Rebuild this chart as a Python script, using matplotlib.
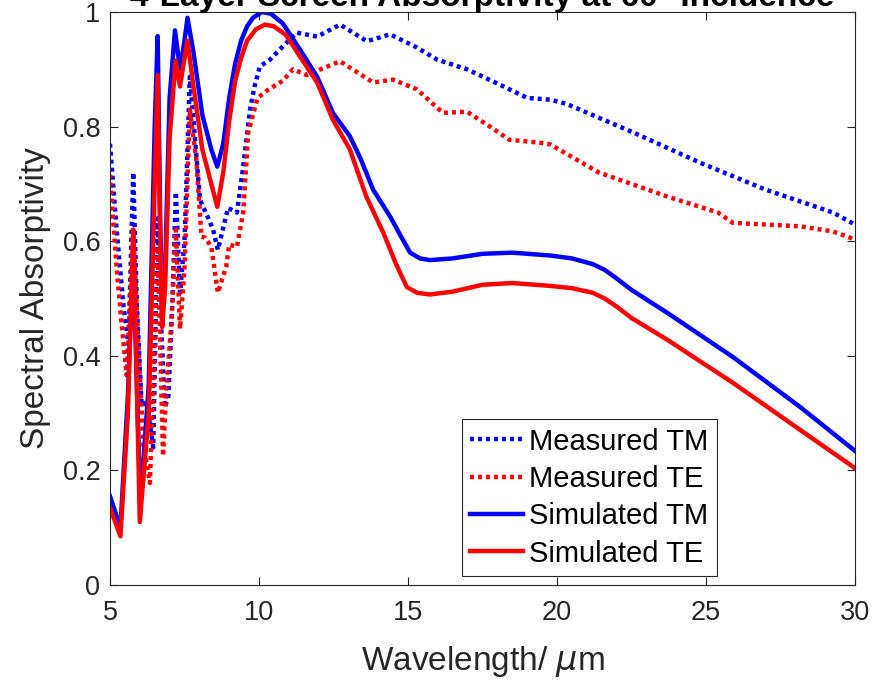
import matplotlib
matplotlib.use("Agg")
import matplotlib.pyplot as plt

plt.rcParams['font.family'] = ['Liberation Sans', 'DejaVu Sans']

title = "4-Layer Screen Absorptivity at 60° Incidence"
xlabel = "Wavelength/ $\\mu$m"
ylabel = "Spectral Absorptivity"
legend_labels = ["Measured TM", "Measured TE", "Simulated TM", "Simulated TE"]

x_meas_tm = [5, 5.22, 5.45, 5.62, 5.78, 5.9, 6.06, 6.23, 6.45, 6.6, 6.72, 6.84, 6.96, 7.1,
             7.21, 7.35, 7.5, 7.68, 7.85, 8.02, 8.3, 8.46, 8.62, 8.96, 9.26, 9.47, 9.7, 9.85,
             10.03, 10.37, 10.8, 11.27, 11.95, 12.72, 13.62, 14.4, 15.3, 15.97, 16.98,
             18.09, 19.0, 19.77, 20.3, 22.55, 24.8, 27.0, 29.26, 30]
y_meas_tm = [0.77, 0.622, 0.488, 0.42, 0.72, 0.49, 0.313, 0.32, 0.24, 0.64, 0.45, 0.31, 0.33, 0.50,
             0.686, 0.51, 0.60, 0.887, 0.78, 0.672, 0.64, 0.62, 0.585, 0.658, 0.65, 0.73, 0.83, 0.87,
             0.905, 0.917, 0.94, 0.964, 0.957, 0.978, 0.949, 0.961, 0.938, 0.917, 0.9,
             0.873, 0.85, 0.847, 0.84, 0.79, 0.737, 0.69, 0.65, 0.629]

x_meas_te = [5, 5.22, 5.4, 5.56, 5.78, 5.95, 6.12, 6.34, 6.6, 6.78, 6.9, 7.05, 7.21, 7.35, 7.5,
             7.68, 7.9, 8.07, 8.2, 8.4, 8.62, 8.9, 9.0, 9.26, 9.47, 9.64, 9.95, 10.3, 10.8,
             11.14, 11.6, 12.72, 13.83, 14.5, 15.3, 16.17, 16.98, 17.75, 18.4, 19.4, 19.77,
             21.4, 23.7, 25.4, 25.9, 28.15, 29.26, 30]
y_meas_te = [0.716, 0.555, 0.45, 0.366, 0.62, 0.42, 0.245, 0.178, 0.59, 0.225, 0.35, 0.45, 0.62,
             0.447, 0.55, 0.83, 0.74, 0.608, 0.606, 0.59, 0.51, 0.556, 0.594, 0.59, 0.65, 0.79,
             0.85, 0.864, 0.88, 0.9, 0.89, 0.914, 0.877, 0.882, 0.865, 0.824, 0.826, 0.8,
             0.777, 0.772, 0.769, 0.72, 0.678, 0.65, 0.632, 0.626, 0.617, 0.603]

x_sim_tm = [5, 5.35, 5.6, 5.78, 5.9, 6.02, 6.3, 6.5, 6.6, 6.68, 6.75, 6.85, 7.0, 7.18, 7.35,
            7.5, 7.6, 7.8, 8.1, 8.4, 8.6, 8.8, 9.0, 9.2, 9.4, 9.6, 9.8, 10.1, 10.4, 10.8,
            11.38, 11.95, 12.48, 13.05, 13.4, 13.83, 14.4, 14.8, 15.07, 15.4, 15.74, 16.5,
            17.5, 18.5, 19.77, 20.5, 21.2, 21.6, 22.0, 22.5, 23.7, 25.9, 28.15, 30]
y_sim_tm = [0.155, 0.10, 0.33, 0.58, 0.35, 0.14, 0.35, 0.80, 0.958, 0.65, 0.46, 0.55, 0.85,
            0.968, 0.90, 0.95, 0.99, 0.93, 0.82, 0.76, 0.73, 0.77, 0.85, 0.91, 0.95, 0.975,
            0.99, 1.0, 0.997, 0.98, 0.934, 0.887, 0.824, 0.783, 0.745, 0.69, 0.643, 0.605,
            0.58, 0.57, 0.567, 0.57, 0.578, 0.58, 0.575, 0.57, 0.56, 0.55, 0.535, 0.515,
            0.475, 0.398, 0.311, 0.234]

x_sim_te = [5, 5.35, 5.6, 5.78, 5.9, 6.0, 6.3, 6.5, 6.6, 6.68, 6.75, 6.85, 7.0, 7.2, 7.35,
            7.5, 7.6, 7.8, 8.1, 8.4, 8.6, 8.8, 9.0, 9.2, 9.4, 9.6, 9.9, 10.2, 10.5, 10.9,
            11.38, 11.95, 12.48, 13.05, 13.6, 14.17, 14.6, 14.96, 15.3, 15.74, 16.5, 17.5,
            18.5, 19.77, 20.5, 21.2, 21.6, 22.0, 22.5, 23.7, 25.9, 28.15, 30]
y_sim_te = [0.135, 0.085, 0.30, 0.62, 0.35, 0.11, 0.30, 0.70, 0.89, 0.62, 0.45, 0.52, 0.78,
            0.915, 0.87, 0.92, 0.95, 0.87, 0.76, 0.70, 0.66, 0.72, 0.81, 0.88, 0.92, 0.95,
            0.97, 0.978, 0.975, 0.96, 0.922, 0.877, 0.812, 0.76, 0.678, 0.615, 0.56, 0.52,
            0.51, 0.507, 0.512, 0.524, 0.527, 0.522, 0.518, 0.51, 0.5, 0.486, 0.466, 0.428,
            0.353, 0.271, 0.204]

xticks = [5, 10, 15, 20, 25, 30]
yticks = [0, 0.2, 0.4, 0.6, 0.8, 1]
ytick_labels = ["0", "0.2", "0.4", "0.6", "0.8", "1"]

fig = plt.figure(figsize=(8.75, 6.81), dpi=100)
ax = fig.add_axes([110/875, 1-585/681, 745/875, 573/681])

dot = (0, (0.9, 0.9))
ax.plot(x_meas_tm, y_meas_tm, color='#0000ff', lw=3.2, linestyle=dot, label=legend_labels[0])
ax.plot(x_meas_te, y_meas_te, color='#ff0000', lw=3.2, linestyle=dot, label=legend_labels[1])
ax.plot(x_sim_tm, y_sim_tm, color='#0000ff', lw=3.2, label=legend_labels[2])
ax.plot(x_sim_te, y_sim_te, color='#ff0000', lw=3.2, label=legend_labels[3])

ax.set_xlim(5, 30)
ax.set_ylim(0, 1)
ax.set_xticks(xticks)
ax.set_yticks(yticks)
ax.set_yticklabels(ytick_labels)
ax.tick_params(direction='in', top=True, right=True, length=6, width=0.8,
               labelsize=19.5, colors='#262626')
ax.tick_params(axis='x', pad=11)
ax.tick_params(axis='y', pad=7)
for s in ax.spines.values():
    s.set_color('#262626')
    s.set_linewidth(0.8)

ax.set_xlabel(xlabel, fontsize=24, color='#262626', labelpad=13)
ax.set_ylabel(ylabel, fontsize=24, color='#262626', labelpad=8)
ax.set_title(title, fontsize=24, fontweight='bold', pad=4)

leg = ax.legend(loc='lower left', bbox_to_anchor=(0.472, 0.015), fontsize=21,
                frameon=True, fancybox=False, edgecolor='#262626', framealpha=1,
                handlelength=1.8, handletextpad=0.22, borderpad=0.3, labelspacing=0.32,
                borderaxespad=0)
leg.get_frame().set_linewidth(0.8)

fig.savefig("out.png", dpi=100)
